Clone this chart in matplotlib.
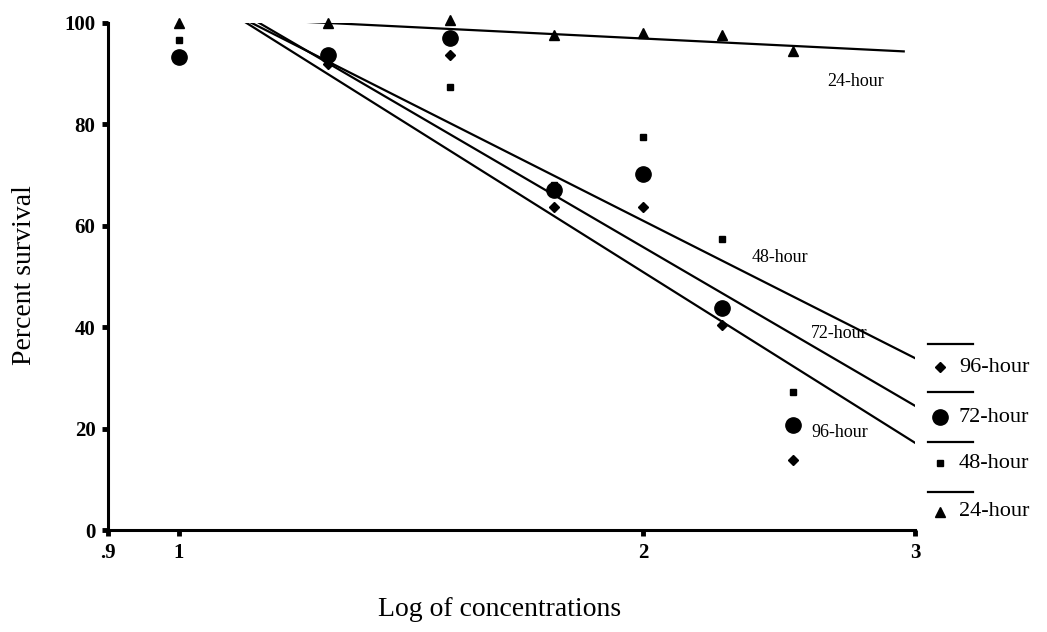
#!/usr/bin/env python3
'''
Percent survival against log of concentration, 24/48/72/96-hour
exposure, with fitted lines for each exposure time.
'''
import numpy as np
import matplotlib
matplotlib.use('Agg')
from matplotlib import pyplot as plt
from matplotlib.lines import Line2D

# Observed survival (%) at each concentration
conc = [1.0, 1.25, 1.5, 1.75, 2.0, 2.25, 2.5]
surv_24 = [100.0, 100.0, 100.5, 97.6, 98.0, 97.6, 94.4]
surv_48 = [96.6, 93.0, 87.3, 68.0, 77.5, 57.4, 27.2]
surv_72 = [93.2, 93.7, 97.0, 67.0, 70.2, 43.8, 20.7]
surv_96 = [np.nan, 92.0, 93.6, 63.7, 63.7, 40.4, 13.8]

# Fitted lines (end points)
fit_x_24 = [1.177, 2.95]
fit_y_24 = [100.4, 94.4]
fit_x_48 = [1.112, 3.0]
fit_y_48 = [100.2, 33.9]
fit_x_72 = [1.125, 3.0]
fit_y_72 = [100.2, 24.5]
fit_x_96 = [1.104, 3.0]
fit_y_96 = [100.2, 17.2]

# Line labels inside the plot
label_names = ['24-hour', '48-hour', '72-hour', '96-hour']
label_x = [2.63, 2.35, 2.57, 2.57]
label_y = [88.4, 53.8, 38.8, 19.3]

xticks = [0.9, 1, 2, 3]
xticklabels = ['.9', '1', '2', '3']
yticks = [0, 20, 40, 60, 80, 100]

plt.rcParams['font.family'] = ['Liberation Serif', 'DejaVu Serif']

W, H = 1047, 632
fig = plt.figure(figsize=(W / 100, H / 100), dpi=100)
ax = fig.add_axes([108 / W, 1 - 530 / H, (915 - 108) / W, (530 - 23) / H])

for fx, fy in [(fit_x_24, fit_y_24), (fit_x_48, fit_y_48),
               (fit_x_72, fit_y_72), (fit_x_96, fit_y_96)]:
    ax.plot(fx, fy, color='black', lw=1.6, zorder=2)

ax.plot(conc, surv_24, ls='none', marker='^', ms=6.5, color='black',
        zorder=3, clip_on=False)
ax.plot(conc, surv_48, ls='none', marker='s', ms=5, color='black',
        zorder=3, clip_on=False)
ax.plot(conc, surv_72, ls='none', marker='o', ms=11, color='black',
        zorder=3, clip_on=False)
ax.plot(conc, surv_96, ls='none', marker='D', ms=5.5, color='black',
        zorder=3, clip_on=False)

for name, lx, ly in zip(label_names, label_x, label_y):
    ax.text(lx, ly, name, fontsize=13, va='center', ha='left')

ax.set_xscale('log')
ax.set_xlim(0.9, 3)
ax.set_ylim(0, 100)
ax.set_xticks(xticks)
ax.set_xticklabels(xticklabels)
ax.xaxis.set_minor_locator(matplotlib.ticker.NullLocator())
ax.set_yticks(yticks)

for s in ['top', 'right']:
    ax.spines[s].set_visible(False)
for s in ['left', 'bottom']:
    ax.spines[s].set_linewidth(2.2)
ax.tick_params(axis='both', direction='out', length=4, width=3.5,
               labelsize=15, pad=5)
for t in ax.get_xticklabels() + ax.get_yticklabels():
    t.set_fontweight('bold')

fig.text(378 / W, 1 - 609 / H, 'Log of concentrations', fontsize=20,
         ha='left', va='center')
fig.text(25 / W, 1 - 275 / H, 'Percent survival', fontsize=20,
         rotation=90, ha='center', va='center')

# Legend: a short rule above each entry, then marker and label
leg_names = ['96-hour', '72-hour', '48-hour', '24-hour']
leg_markers = ['D', 'o', 's', '^']
leg_sizes = [5.5, 11, 5, 6.5]
rule_y = [344, 392, 442, 492]
entry_y = [367, 417, 463, 512]
for name, mk, ms, ry, ey in zip(leg_names, leg_markers, leg_sizes, rule_y, entry_y):
    fig.add_artist(Line2D([928 / W, 973 / W], [1 - ry / H, 1 - ry / H],
                          transform=fig.transFigure, color='black', lw=1.6))
    fig.add_artist(Line2D([940 / W], [1 - ey / H], transform=fig.transFigure,
                          marker=mk, ms=ms, color='black', ls='none'))
    fig.text(959 / W, 1 - ey / H, name, fontsize=16, ha='left', va='center')

plt.savefig('out.png', dpi=100)
